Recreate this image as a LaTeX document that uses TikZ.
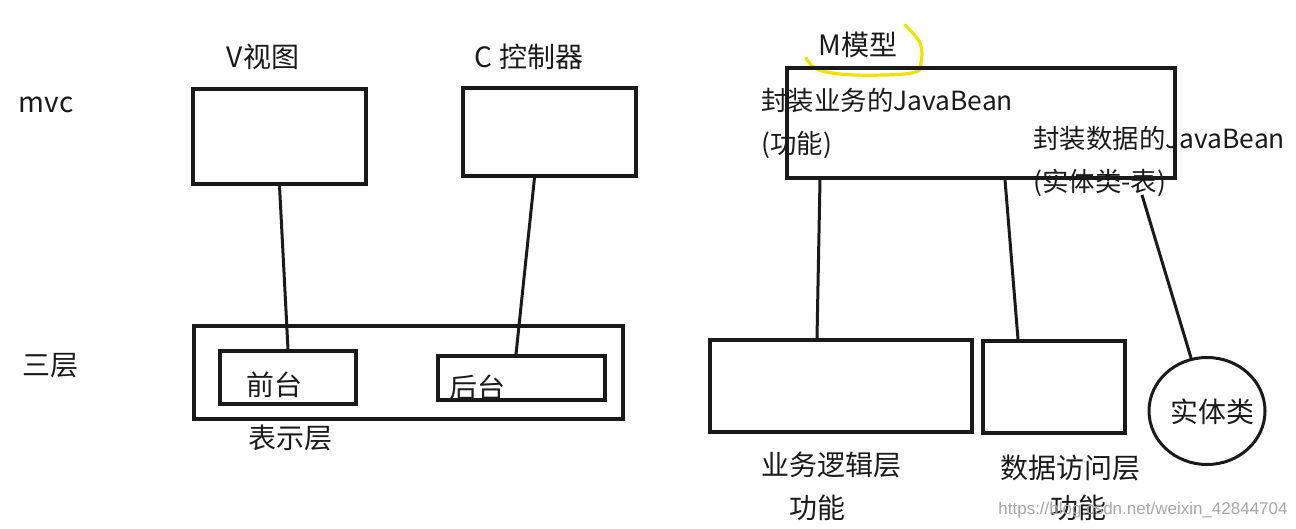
\documentclass[tikz,border=0pt]{standalone}
\usepackage{fontspec}
\setmainfont{Noto Sans CJK SC}
\newfontfamily\wmfont{Liberation Sans}
\usetikzlibrary{shapes.geometric}
\definecolor{ink}{HTML}{1A1A1A}
\definecolor{hl}{HTML}{F2E200}
\tikzset{
  box/.style={draw=ink, line width=1.7pt, rectangle, inner sep=0pt},
  conn/.style={draw=ink, line width=1.5pt},
  lbl/.style={inner sep=0pt, text=ink, font=\fontsize{14pt}{16pt}\selectfont},
  mlbl/.style={inner sep=0pt, text=ink, anchor=west, font=\fontsize{13.2pt}{15pt}\selectfont},
}
\begin{document}
\begin{tikzpicture}[x=0.5pt,y=-0.5pt]
\useasboundingbox (0,0) rectangle (1296,529);
% labels left
\node[lbl] (mvc) at (46,105) {mvc};
\node[lbl] (vt) at (263,57) {V视图};
\node[lbl] (ct) at (529,57) {C 控制器};
\node[lbl] (sc) at (50,366) {三层};
% mvc boxes
\node[box, minimum width=86.5pt, minimum height=47.5pt] (V) at (279.5,136.5) {};
\node[box, minimum width=86.5pt, minimum height=44pt] (C) at (549.5,132) {};
% presentation layer
\node[box, minimum width=214.5pt, minimum height=46.5pt] (pres) at (408.5,372.5) {};
\node[box, minimum width=68pt, minimum height=26.5pt] (qt) at (288,377.5) {};
\node[box, minimum width=83.5pt, minimum height=22pt] (ht) at (521.5,378) {};
\node[lbl] (qtl) at (274,385) {前台};
\node[lbl] (htl) at (477,388) {后台};
\node[lbl] (bsc) at (290,438) {表示层};
\draw[conn] (V.south) -- (qt.north);
\draw[conn] ([xshift=-7.5pt]C.south) -- ([xshift=-2.75pt]ht.north);
% model
\node[lbl] (mt) at (858,45) {M模型};
\draw[hl, line width=1.6pt, line cap=round] plot[smooth, tension=0.6] coordinates {(806,58) (819,70) (855,75) (912,73) (921,62) (920,43) (905,25)};
\node[box, minimum width=194pt, minimum height=55pt] (M) at (981,123) {};
\node[mlbl] (m1) at (761,100) {封装业务的JavaBean};
\node[mlbl] (m2) at (761,145) {(功能)};
\node[mlbl] (m3) at (1033,138) {封装数据的JavaBean};
\node[mlbl] (m4) at (1033,183) {(实体类-表)};
\coordinate (m4end) at (1142,195);
% lower layers
\node[box, minimum width=131pt, minimum height=46pt] (biz) at (841,386) {};
\node[box, minimum width=71pt, minimum height=46pt] (dao) at (1054,387) {};
\node[draw=ink, line width=1.5pt, ellipse, minimum width=58pt, minimum height=53.5pt, inner sep=0pt] (ent) at (1207,411) {};
\node[lbl] (entl) at (1212,412) {实体类};
\node[lbl] (bizl) at (831,465) {业务逻辑层};
\node[lbl] (bizf) at (817,508) {功能};
\node[lbl] (daol) at (1070,468) {数据访问层};
\node[lbl] (daof) at (1078,508) {功能};
\draw[conn] ([xshift=-80.5pt]M.south) -- ([xshift=-12pt]biz.north);
\draw[conn] ([xshift=12pt]M.south) -- ([xshift=-18pt]dao.north);
\draw[conn] (m4end) -- (ent);
% watermark
\node[inner sep=0pt, text=black!35, font=\wmfont\fontsize{8.5pt}{10pt}\selectfont, anchor=east] (wm) at (1288,510) {https://blog.csdn.net/weixin\_42844704};
\end{tikzpicture}
\end{document}
